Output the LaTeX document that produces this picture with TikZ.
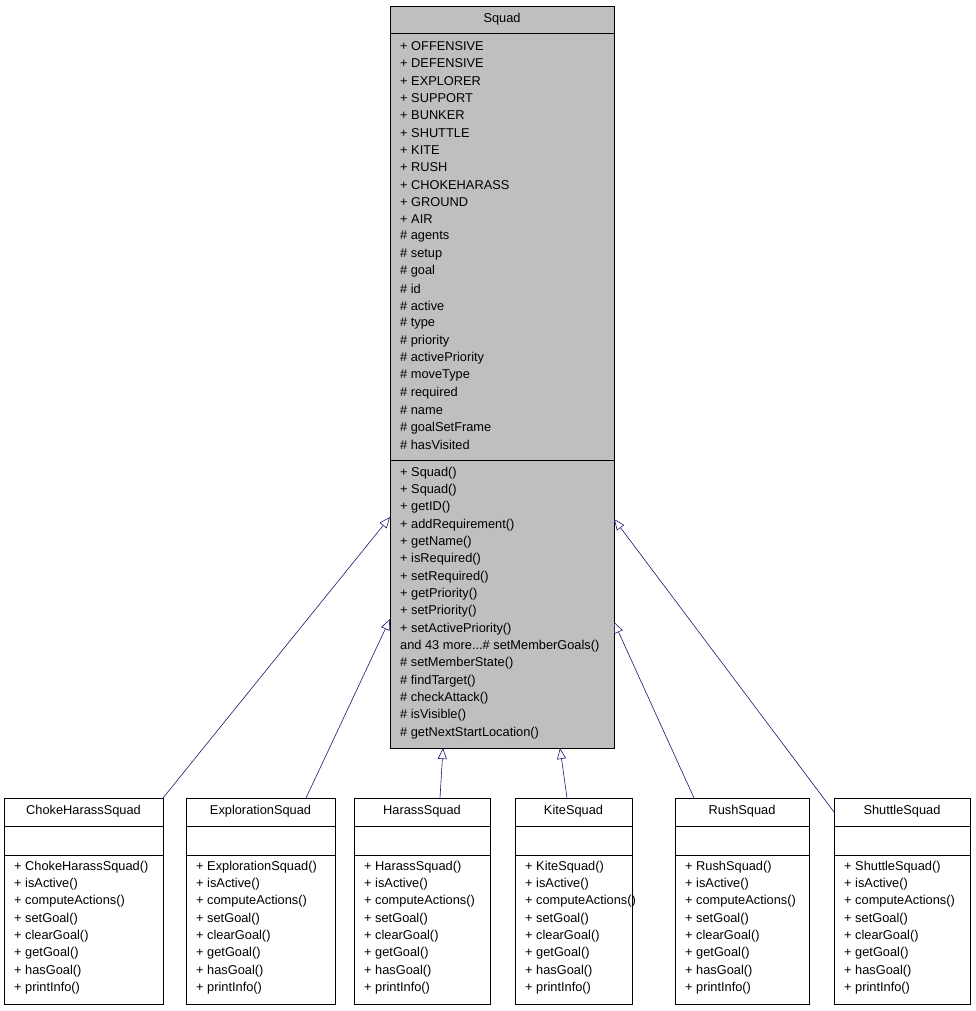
\documentclass[tikz,border=0pt]{standalone}
\usepackage{fontspec}
\setmainfont{Liberation Sans}
\usetikzlibrary{arrows.meta}
\definecolor{edgeblue}{HTML}{191970}
\definecolor{boxgray}{HTML}{BFBFBF}
\newcommand\moredots{...}

\begin{document}
\begin{tikzpicture}[
        x=1pt, y=-1pt,
        box/.style={draw, thick, inner sep=0pt, anchor=north west},
        member/.style={anchor=west, inner sep=0pt, font=\fontsize{12.8}{14}\selectfont},
        inherit/.style={draw=edgeblue, semithick, -{Triangle[open, length=11pt, width=9pt, fill=white]}},
    ]
    \useasboundingbox (0,0) rectangle (976,1011);

    % base class
    \node[box, fill=boxgray, minimum width=224pt, minimum height=742pt] (squad) at (390,6) {};
    \node[member] (squadname) at (502,19) [anchor=center] {Squad};
    \draw[thick] (390,33) -- (614,33);
    \draw[thick] (390,460) -- (614,460);

    \foreach \m [count=\i] in {+ OFFENSIVE, + DEFENSIVE, + EXPLORER, + SUPPORT, + BUNKER,
            + SHUTTLE, + KITE, + RUSH, + CHOKEHARASS, + GROUND, + AIR, \# agents,
            \# setup, \# goal, \# id, \# active, \# type, \# priority, \# activePriority,
            \# moveType, \# required, \# name, \# goalSetFrame, \# hasVisited}
        \node[member] (attr\i) at (400, 46+17.35*\i-17.35) {\m};

    \foreach \m [count=\i] in {+ Squad(), + Squad(), + getID(), + addRequirement(),
            + getName(), + isRequired(), + setRequired(), + getPriority(), + setPriority(),
            + setActivePriority(), and 43 more\moredots\# setMemberGoals(), \# setMemberState(),
            \# findTarget(), \# checkAttack(), \# isVisible(), \# getNextStartLocation()}
        \node[member] (meth\i) at (400, 473+17.33*\i-17.33) {\m};

    % derived classes
    \foreach \n/\x/\w in {ChokeHarass/4/159, Exploration/186/149, Harass/354/136,
            Kite/515/117, Rush/675/134, Shuttle/834/136} {
        \node[box, fill=white, minimum width=\w pt, minimum height=206pt] (\n) at (\x,798) {};
        \node[member, anchor=center] (\n name) at (\x+\w/2, 811) {\n Squad};
        \draw[thick] (\x,826) -- ++(\w,0);
        \draw[thick] (\x,855) -- ++(\w,0);
        \foreach \m [count=\i] in {+ \n Squad(), + isActive(), + computeActions(), + setGoal(),
                + clearGoal(), + getGoal(), + hasGoal(), + printInfo()}
            \node[member] (\n m\i) at (\x+10, 867+17.3*\i-17.3) {\m};
    }

    \coordinate (toChoke) at (390,517);
    \coordinate (toExpl) at (390,619);
    \coordinate (toHarass) at (443,748);
    \coordinate (toKite) at (560,748);
    \coordinate (toRush) at (614,622);
    \coordinate (toShuttle) at (614,519);
    \coordinate (fromChoke) at (163,798);
    \coordinate (fromExpl) at (306,798);
    \coordinate (fromHarass) at (440,798);
    \coordinate (fromKite) at (567,798);
    \coordinate (fromRush) at (694,798);
    \coordinate (fromShuttle) at (834,812);

    \draw[inherit] (fromChoke) -- (toChoke);
    \draw[inherit] (fromExpl) -- (toExpl);
    \draw[inherit] (fromHarass) -- (toHarass);
    \draw[inherit] (fromKite) -- (toKite);
    \draw[inherit] (fromRush) -- (toRush);
    \draw[inherit] (fromShuttle) -- (toShuttle);
\end{tikzpicture}
\end{document}
